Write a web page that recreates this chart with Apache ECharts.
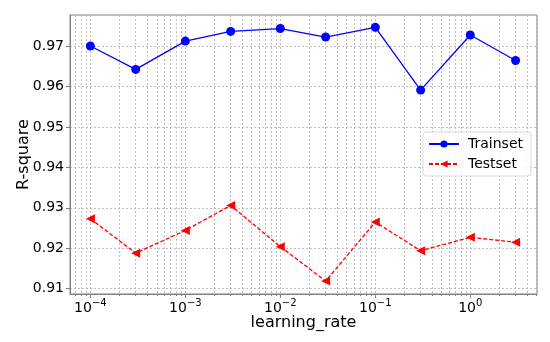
<!DOCTYPE html>
<html><head><meta charset="utf-8">
<script src="https://cdn.jsdelivr.net/npm/echarts@6/dist/echarts.min.js"></script>
<style>html,body{margin:0;padding:0;background:#fff}#c{width:550px;height:342px}</style>
</head><body><div id="c"></div>
<script>
const learningRates = [1e-4, 3e-4, 1e-3, 3e-3, 1e-2, 3e-2, 1e-1, 3e-1, 1, 3];
const trainScores = [0.9700, 0.9642, 0.9712, 0.9736, 0.9743, 0.9722, 0.9746, 0.9591, 0.9727, 0.9664];
const testScores = [0.9273, 0.9188, 0.9244, 0.9306, 0.9204, 0.9119, 0.9265, 0.9194, 0.9227, 0.9215];
const yTicks = [0.91, 0.92, 0.93, 0.94, 0.95, 0.96, 0.97];
const xTicks = [1e-4, 1e-3, 1e-2, 1e-1, 1];
const xMin = 6.1e-5, xMax = 5.04, yMin = 0.9087, yMax = 0.97765;
const minorDecades = [1e-5, 1e-4, 1e-3, 1e-2, 1e-1, 1];
const xMinor = [];
minorDecades.forEach(d => { for (let k = 2; k <= 9; k++) { const v = d * k; if (v > xMin && v < xMax) xMinor.push(v); } });

const FONT = 'DejaVu Sans';
const gridStyle = { color: '#b0b0b0', type: [2, 2], width: 0.8 };
const frame = '#808080';

const chart = echarts.init(document.getElementById('c'), null, { renderer: 'canvas' });
const option = {
  animation: false,
  textStyle: { fontFamily: FONT },
  grid: { left: 70, right: 13, top: 15, bottom: 48, show: true, borderColor: frame, borderWidth: 1, backgroundColor: 'transparent' },
  legend: {
    data: ['Trainset', 'Testset'],
    orient: 'vertical', left: 423, top: 132,
    itemWidth: 30, itemHeight: 9, itemGap: 6,
    padding: [5, 8, 5, 5],
    borderColor: '#d8d8d8', borderWidth: 1, borderRadius: 3,
    backgroundColor: 'rgba(255,255,255,0.85)',
    textStyle: { fontFamily: FONT, fontSize: 14, color: '#000', padding: [0, 0, 0, 4] }
  },
  xAxis: [{
    type: 'log', logBase: 10, min: xMin, max: xMax,
    name: 'learning_rate', nameLocation: 'middle', nameGap: 21, nameMoveOverlap: false,
    nameTextStyle: { fontFamily: FONT, fontSize: 16, color: '#000' },
    axisLine: { show: true, lineStyle: { color: frame } },
    axisTick: { show: true, length: 4, lineStyle: { color: frame }, customValues: xTicks },
    axisLabel: {
      customValues: xTicks, margin: 4,
      formatter: v => { const e = Math.round(Math.log10(v)); return '{b|10}{s|' + (e < 0 ? '\u2212' + (-e) : e) + '}'; },
      rich: {
        b: { fontFamily: FONT, fontSize: 14, color: '#000', verticalAlign: 'bottom' },
        s: { fontFamily: FONT, fontSize: 10, color: '#000', verticalAlign: 'bottom', padding: [0, 0, 7, 0] }
      }
    },
    splitLine: { show: true, lineStyle: gridStyle }
  }, {
    type: 'log', logBase: 10, min: xMin, max: xMax, position: 'bottom',
    axisLine: { show: false },
    axisTick: { show: true, length: 2, lineStyle: { color: frame }, customValues: xMinor },
    axisLabel: { show: false },
    splitLine: { show: true, lineStyle: gridStyle }
  }],
  yAxis: {
    type: 'value', min: yMin, max: yMax,
    name: 'R-square', nameLocation: 'middle', nameGap: 38, nameRotate: 90, nameMoveOverlap: false,
    nameTextStyle: { fontFamily: FONT, fontSize: 16, color: '#000' },
    axisLine: { show: true, lineStyle: { color: frame } },
    axisTick: { show: true, length: 4, lineStyle: { color: frame }, customValues: yTicks },
    axisLabel: { customValues: yTicks, margin: 6, fontFamily: FONT, fontSize: 14, color: '#000', formatter: v => Number(v).toFixed(2) },
    splitLine: { show: true, lineStyle: gridStyle }
  },
  series: [
    {
      name: 'Trainset', type: 'line', z: 3,
      data: learningRates.map((x, i) => [x, trainScores[i]]),
      lineStyle: { color: '#0000ff', width: 1.3 },
      itemStyle: { color: '#0000ff', borderColor: '#0000ff', borderWidth: 0 },
      symbol: 'circle', symbolSize: 9, showSymbol: true
    },
    {
      name: 'Testset', type: 'line', z: 3,
      data: learningRates.map((x, i) => [x, testScores[i]]),
      lineStyle: { color: '#ff0000', width: 1.3, type: [4, 2] },
      itemStyle: { color: '#ff0000', borderColor: '#ff0000', borderWidth: 0 },
      symbol: 'triangle', symbolRotate: 90, symbolSize: 9, showSymbol: true
    }
  ]
};
chart.setOption(option);
</script>
</body></html>
